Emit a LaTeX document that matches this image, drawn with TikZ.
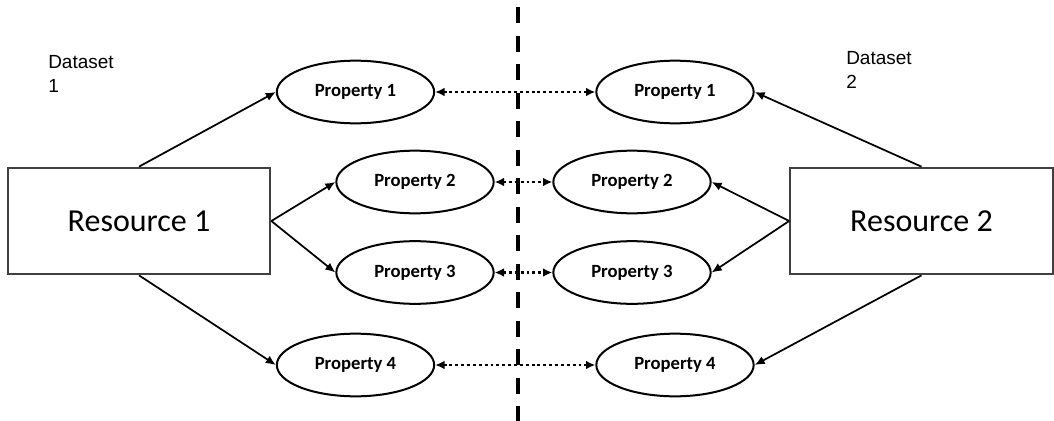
\documentclass[tikz,border=0pt]{standalone}
\usepackage{fontspec}
\setmainfont{Carlito}
\newfontfamily\arialfont{Liberation Sans}
\usetikzlibrary{arrows.meta,shapes.geometric}
\begin{document}
\begin{tikzpicture}[x=0.75pt,y=-0.75pt,
  prop/.style={ellipse, draw, line width=1.5pt, minimum width=118pt, minimum height=47pt,
    inner sep=0pt, font=\fontsize{14}{16}\selectfont\bfseries},
  res/.style={rectangle, draw=black!75, line width=1.5pt, minimum width=197pt,
    minimum height=80pt, inner sep=0pt, font=\fontsize{24}{28}\selectfont},
  link/.style={line width=1.3pt, -{Latex[length=7.5pt,width=6.5pt]}},
  match/.style={line width=1.8pt, dash pattern=on 2.2pt off 2.2pt,
    {Latex[length=7pt,width=6.5pt]}-{Latex[length=7pt,width=6.5pt]}},
  divider/.style={line width=3pt, dash pattern=on 12pt off 9.4pt},
  setlabel/.style={font=\arialfont\fontsize{14.25}{18}\selectfont, align=left,
    anchor=north west, inner sep=0pt}]
\useasboundingbox (0,0) rectangle (1054,421);

% the two resources
\node[res] (r1) at (139,221) {Resource 1};
\node[res] (r2) at (921.5,221) {Resource 2};

% properties of dataset 1
\node[prop] (a1) at (355.5,92) {Property 1};
\node[prop] (a2) at (415,182) {Property 2};
\node[prop] (a3) at (415,272.5) {Property 3};
\node[prop] (a4) at (355.5,365) {Property 4};

% properties of dataset 2
\node[prop] (b1) at (675,92) {Property 1};
\node[prop] (b2) at (632,182) {Property 2};
\node[prop] (b3) at (632,272.5) {Property 3};
\node[prop] (b4) at (675,365) {Property 4};

% dataset captions
\node[setlabel] (d1) at (48,55) {Dataset\\1};
\node[setlabel] (d2) at (846,51) {Dataset\\2};

% boundary between the datasets
\coordinate (dtop) at (517.5,7);
\coordinate (dbot) at (517.5,421);
\draw[divider] (dtop) -- (dbot);

% resource-to-property links
\draw[link] (r1.north) -- (a1.west);
\draw[link] (r1.east) -- (a2.west);
\draw[link] (r1.east) -- (a3.west);
\draw[link] (r1.south) -- (a4.west);
\draw[link] (r2.north) -- (b1.east);
\draw[link] (r2.west) -- (b2.east);
\draw[link] (r2.west) -- (b3.east);
\draw[link] (r2.south) -- (b4.east);

% property correspondences
\draw[match] (a1) -- (b1);
\draw[match] (a2) -- (b2);
\draw[match] (a3) -- (b3);
\draw[match] (a4) -- (b4);
\end{tikzpicture}
\end{document}
